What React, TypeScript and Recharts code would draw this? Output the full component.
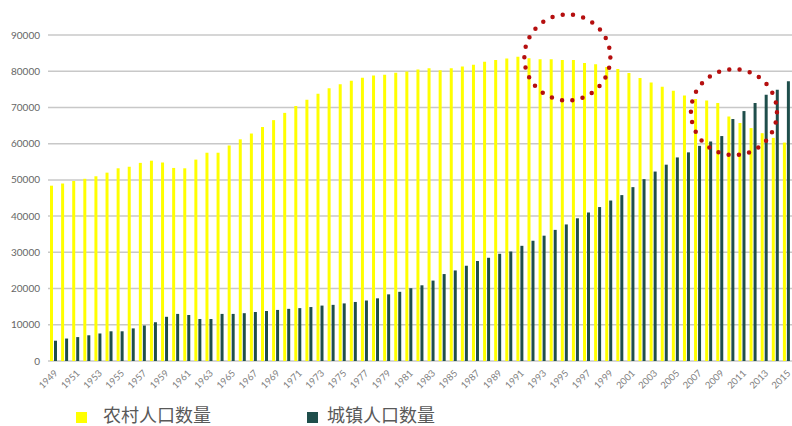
import { BarChart, Bar, XAxis, YAxis, CartesianGrid, Legend, ReferenceDot } from 'recharts'

const years = [
  '1949', '1950', '1951', '1952', '1953', '1954', '1955', '1956', '1957', '1958',
  '1959', '1960', '1961', '1962', '1963', '1964', '1965', '1966', '1967', '1968',
  '1969', '1970', '1971', '1972', '1973', '1974', '1975', '1976', '1977', '1978',
  '1979', '1980', '1981', '1982', '1983', '1984', '1985', '1986', '1987', '1988',
  '1989', '1990', '1991', '1992', '1993', '1994', '1995', '1996', '1997', '1998',
  '1999', '2000', '2001', '2002', '2003', '2004', '2005', '2006', '2007', '2008',
  '2009', '2010', '2011', '2012', '2013', '2014', '2015',
]

// 农村人口数量 (万人)
const rural = [
  48400, 49000, 49700, 50300, 51000, 52000, 53200, 53600, 54700, 55300,
  54800, 53300, 53200, 55600, 57500, 57500, 59500, 61200, 62800, 64600,
  66500, 68500, 70400, 72100, 73800, 75300, 76400, 77400, 78200, 78800,
  79000, 79600, 79900, 80500, 80800, 80300, 80800, 81300, 81800, 82600,
  83100, 83500, 84000, 83600, 83300, 83300, 83100, 83100, 82300, 81900,
  81200, 80600, 79500, 78100, 76900, 75700, 74600, 73300, 72300, 71900,
  71200, 67500, 65700, 64300, 62900, 61600, 60300,
]

// 城镇人口数量 (万人)
const urban = [
  5600, 6200, 6600, 7100, 7600, 8200, 8200, 9000, 9800, 10700,
  12200, 13000, 12700, 11600, 11600, 13000, 13000, 13200, 13500, 13800,
  14100, 14400, 14600, 14900, 15300, 15500, 15900, 16300, 16700, 17300,
  18400, 19100, 20100, 20900, 22200, 24000, 25000, 26300, 27600, 28500,
  29600, 30200, 31800, 33200, 34600, 36200, 37700, 39400, 41000, 42500,
  44300, 45800, 48000, 50200, 52300, 54200, 56200, 57600, 59400, 60600,
  62100, 66800, 69000, 71200, 73500, 74900, 77200,
]

const yTicks = [0, 10000, 20000, 30000, 40000, 50000, 60000, 70000, 80000, 90000]

// dotted red highlight rings (year, value at ring centre)
const highlights = [
  { year: '1995', value: 83800 },
  { year: '2010', value: 68700 },
]

const YELLOW = '#FFFF00'
const GREEN = '#1F4E4B'

const data = years.map((year, i) => ({ year, rural: rural[i], urban: urban[i] }))

const ring = (props: any) => (
  <circle
    cx={props.cx + 3}
    cy={props.cy}
    r={43}
    fill="none"
    stroke="#B50F0F"
    strokeWidth={4.5}
    strokeLinecap="round"
    strokeDasharray="0 10.4"
  />
)

const renderLegend = () => (
  <div style={{ position: 'relative', height: 30, fontFamily: '"Noto Sans CJK SC", sans-serif', color: '#595959' }}>
    <div style={{ position: 'absolute', left: 76, top: 16, width: 11, height: 11, background: YELLOW }} />
    <div style={{ position: 'absolute', left: 103, top: 8, fontSize: 18, lineHeight: '20px' }}>农村人口数量</div>
    <div style={{ position: 'absolute', left: 307, top: 16, width: 11, height: 11, background: GREEN }} />
    <div style={{ position: 'absolute', left: 327, top: 8, fontSize: 18, lineHeight: '20px' }}>城镇人口数量</div>
  </div>
)

export default function App() {
  return (
    <div style={{ position: 'absolute', left: 0, top: 0, width: 792, height: 426, overflow: 'hidden', background: '#fff' }}>
      <BarChart
        width={792}
        height={426}
        data={data}
        margin={{ top: 35, right: 0, bottom: 0, left: 0 }}
        barSize={3}
        barGap={1}
      >
        <CartesianGrid vertical={false} stroke="#C8C8C8" strokeWidth={1.5} />
        <XAxis
          dataKey="year"
          interval={1}
          height={35}
          axisLine={false}
          tickLine={false}
          angle={-45}
          textAnchor="end"
          tick={{ fontSize: 9.5, fill: '#7F7F7F', fontFamily: 'Lato, sans-serif' }}
        />
        <YAxis
          width={48}
          domain={[0, 90000]}
          ticks={yTicks}
          axisLine={false}
          tickLine={false}
          tick={{ fontSize: 10, fill: '#666666', fontFamily: 'Lato, sans-serif' }}
        />
        <Legend verticalAlign="bottom" align="left" height={30} content={renderLegend} wrapperStyle={{ left: 0, width: 792 }} />
        <Bar dataKey="rural" name="农村人口数量" fill={YELLOW} isAnimationActive={false} />
        <Bar dataKey="urban" name="城镇人口数量" fill={GREEN} isAnimationActive={false} />
        {highlights.map((h) => (
          <ReferenceDot key={h.year} x={h.year} y={h.value} r={43} shape={ring} />
        ))}
      </BarChart>
    </div>
  )
}
